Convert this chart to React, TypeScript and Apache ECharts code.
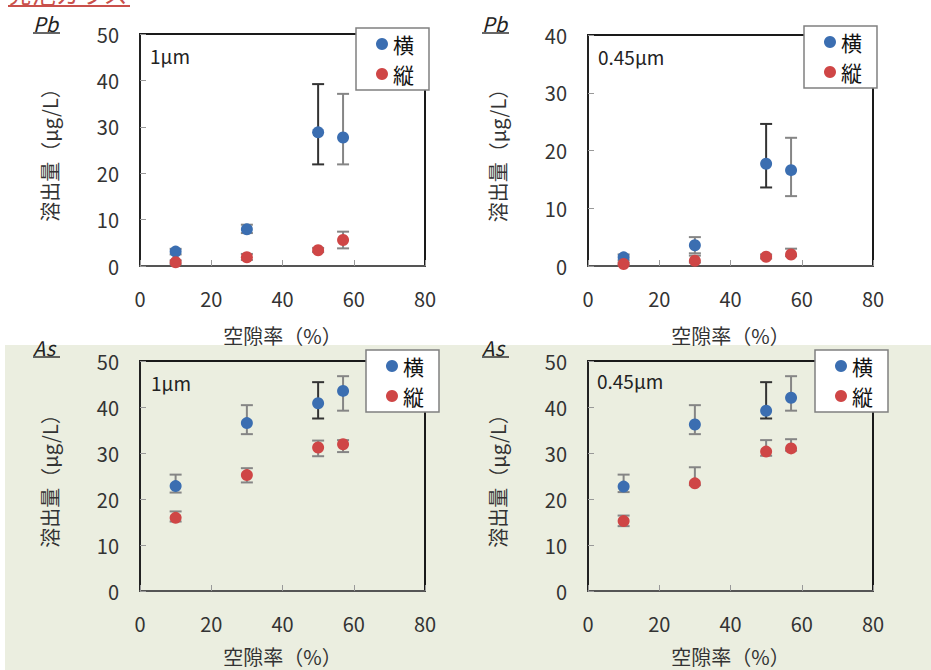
import React, { useEffect, useRef } from "react";
import * as echarts from "echarts";

const porosity = [10, 30, 50, 57];
const seriesNames = ["横", "縦"];
const xTicks = [0, 20, 40, 60, 80];

const pb1Yoko = [3.1, 7.9, 28.8, 27.7];
const pb1YokoErr = [[2.5, 3.7], [7.1, 8.9], [21.9, 39.2], [21.9, 37.1]];
const pb1Tate = [0.8, 1.9, 3.4, 5.6];
const pb1TateErr = [[0.4, 1.2], [1.3, 2.6], [3.0, 3.9], [3.8, 7.4]];

const pb045Yoko = [1.5, 3.6, 17.7, 16.6];
const pb045YokoErr = [[1.0, 2.0], [2.2, 5.0], [13.6, 24.6], [12.1, 22.2]];
const pb045Tate = [0.35, 0.9, 1.6, 2.0];
const pb045TateErr = [[0.2, 0.6], [0.6, 1.8], [1.3, 2.0], [1.7, 3.0]];

const as1Yoko = [22.8, 36.5, 40.8, 43.5];
const as1YokoErr = [[21.4, 25.3], [34.1, 40.4], [37.5, 45.4], [39.2, 46.7]];
const as1Tate = [15.9, 25.2, 31.2, 31.9];
const as1TateErr = [[15.1, 17.3], [23.6, 26.7], [29.3, 32.7], [30.2, 32.8]];

const as045Yoko = [22.7, 36.2, 39.2, 42.0];
const as045YokoErr = [[21.5, 25.3], [34.1, 40.4], [37.5, 45.4], [39.2, 46.7]];
const as045Tate = [15.2, 23.4, 30.3, 31.0];
const as045TateErr = [[14.1, 16.4], [23.0, 26.9], [29.4, 32.8], [30.5, 33.0]];

const panelElements = ["Pb", "Pb", "As", "As"];
const panelFilters = ["1μm", "0.45μm", "1μm", "0.45μm"];
const panelYMax = [50, 40, 50, 50];
const headerText = "発泡ガラス";
const xName = "空隙率（%）";
const yName = "溶出量（μg/L）";

const panelData = [
  { yoko: pb1Yoko, yokoErr: pb1YokoErr, tate: pb1Tate, tateErr: pb1TateErr },
  { yoko: pb045Yoko, yokoErr: pb045YokoErr, tate: pb045Tate, tateErr: pb045TateErr },
  { yoko: as1Yoko, yokoErr: as1YokoErr, tate: as1Tate, tateErr: as1TateErr },
  { yoko: as045Yoko, yokoErr: as045YokoErr, tate: as045Tate, tateErr: as045TateErr },
];

const FONT = "'Noto Sans CJK JP', 'Noto Sans', sans-serif";
const BLUE = "#3b6eb1";
const RED = "#cf4646";

const grids = [
  { left: 140, top: 34, width: 285, height: 232 },
  { left: 588, top: 35, width: 285, height: 231 },
  { left: 140, top: 361, width: 285, height: 230 },
  { left: 588, top: 361, width: 285, height: 230 },
];
const legends = [
  { left: 356, top: 28 },
  { left: 804, top: 26 },
  { left: 366, top: 350 },
  { left: 815, top: 350 },
];
const labelPos = [
  { x: 150, y: 55 },
  { x: 598, y: 56 },
  { x: 151, y: 382 },
  { x: 597, y: 380 },
];
const elemPos = [
  { x: 33, y: 23 },
  { x: 482, y: 23 },
  { x: 33, y: 347 },
  { x: 482, y: 347 },
];
const xNameGap = [59, 59, 55, 55];

function errRender(dark: boolean) {
  return (params: any, api: any) => {
    const x = api.value(0);
    const lo = api.coord([x, api.value(1)]);
    const hi = api.coord([x, api.value(2)]);
    const idx = params.dataIndex;
    const color = dark && idx === 2 ? "#333333" : "#858585";
    const hw = 6;
    const style = { stroke: color, lineWidth: 2 };
    return {
      type: "group",
      children: [
        { type: "line", shape: { x1: lo[0], y1: lo[1], x2: hi[0], y2: hi[1] }, style },
        { type: "line", shape: { x1: lo[0] - hw, y1: lo[1], x2: lo[0] + hw, y2: lo[1] }, style },
        { type: "line", shape: { x1: hi[0] - hw, y1: hi[1], x2: hi[0] + hw, y2: hi[1] }, style },
      ],
    };
  };
}

export default function App() {
  const ref = useRef<HTMLDivElement>(null);
  useEffect(() => {
    if (!ref.current) return;
    const chart = echarts.init(ref.current, undefined, { renderer: "svg" });

    const xAxes: any[] = [];
    const yAxes: any[] = [];
    const series: any[] = [];
    const legendArr: any[] = [];
    const graphics: any[] = [
      {
        type: "rect",
        shape: { x: 5, y: 345, width: 926, height: 325 },
        style: { fill: "#ebeee0" },
        z: -10,
      },
      {
        type: "text",
        x: 8,
        y: 4,
        style: {
          text: headerText,
          font: `24px ${FONT}`,
          fill: "#c9504b",
          textVerticalAlign: "bottom",
        },
      },
      {
        type: "line",
        shape: { x1: 8, y1: 6, x2: 130, y2: 6 },
        style: { stroke: "#c9504b", lineWidth: 2 },
      },
    ];

    for (let i = 0; i < 4; i++) {
      xAxes.push({
        gridIndex: i,
        type: "value",
        min: 0,
        max: 80,
        interval: 20,
        name: xName,
        nameLocation: "middle",
        nameGap: xNameGap[i],
        nameTextStyle: { fontSize: 20, color: "#333", fontFamily: FONT },
        axisLine: { show: true, onZero: false, lineStyle: { color: "#555", width: 2 } },
        axisTick: { show: true, inside: true, length: 6, lineStyle: { color: "#999" } },
        axisLabel: {
          fontSize: 20,
          color: "#333",
          fontFamily: FONT,
          margin: 22,
          formatter: (v: number) => (xTicks.includes(v) ? String(v) : ""),
        },
        splitLine: { show: false },
      });
      yAxes.push({
        gridIndex: i,
        type: "value",
        min: 0,
        max: panelYMax[i],
        interval: 10,
        name: yName,
        nameLocation: "middle",
        nameGap: 81,
        nameRotate: 90,
        nameTextStyle: { fontSize: 20, color: "#333", fontFamily: FONT },
        axisLine: { show: true, lineStyle: { color: "#222", width: 2 } },
        axisTick: { show: true, inside: true, length: 6, lineStyle: { color: "#999" } },
        axisLabel: { fontSize: 20, color: "#333", fontFamily: FONT, margin: 21 },
        splitLine: { show: false },
      });
      const d = panelData[i];
      series.push({
        name: "横err" + i,
        type: "custom",
        xAxisIndex: i,
        yAxisIndex: i,
        renderItem: errRender(true),
        data: porosity.map((x, k) => [x, d.yokoErr[k][0], d.yokoErr[k][1]]),
        z: 1,
        silent: true,
      });
      series.push({
        name: "縦err" + i,
        type: "custom",
        xAxisIndex: i,
        yAxisIndex: i,
        renderItem: errRender(false),
        data: porosity.map((x, k) => [x, d.tateErr[k][0], d.tateErr[k][1]]),
        z: 1,
        silent: true,
      });
      series.push({
        name: seriesNames[0],
        type: "scatter",
        xAxisIndex: i,
        yAxisIndex: i,
        symbol: "circle",
        symbolSize: 12,
        itemStyle: { color: BLUE, opacity: 1 },
        data: porosity.map((x, k) => [x, d.yoko[k]]),
        z: 3,
      });
      series.push({
        name: seriesNames[1],
        type: "scatter",
        xAxisIndex: i,
        yAxisIndex: i,
        symbol: "circle",
        symbolSize: 12,
        itemStyle: { color: RED, opacity: 1 },
        data: porosity.map((x, k) => [x, d.tate[k]]),
        z: 3,
      });
      legendArr.push({
        data: seriesNames,
        left: legends[i].left,
        top: legends[i].top,
        orient: "vertical",
        icon: "circle",
        itemWidth: 12,
        itemHeight: 12,
        itemGap: 8,
        padding: [5, 15, 5, 20],
        backgroundColor: "#ffffff",
        borderColor: "#808080",
        borderWidth: 1.5,
        textStyle: { fontSize: 21, color: "#111", fontFamily: FONT, lineHeight: 22 },
        selectedMode: false,
        z: 10,
      });
      graphics.push({
        type: "text",
        x: labelPos[i].x,
        y: labelPos[i].y,
        style: {
          text: panelFilters[i],
          font: `19px ${FONT}`,
          fill: "#222",
          textVerticalAlign: "middle",
        },
        z: 5,
      });
      graphics.push({
        type: "text",
        x: elemPos[i].x,
        y: elemPos[i].y,
        style: {
          text: panelElements[i],
          font: `italic 20px ${FONT}`,
          fill: "#222",
          textVerticalAlign: "middle",
        },
      });
      graphics.push({
        type: "line",
        shape: {
          x1: elemPos[i].x,
          y1: elemPos[i].y + 10,
          x2: elemPos[i].x + 27,
          y2: elemPos[i].y + 10,
        },
        style: { stroke: "#333", lineWidth: 1.5 },
      });
    }

    chart.setOption({
      animation: false,
      backgroundColor: "#ffffff",
      grid: grids.map((g) => ({
        ...g,
        show: true,
        borderColor: "#1a1a1a",
        borderWidth: 2,
        backgroundColor: "transparent",
        containLabel: false,
      })),
      xAxis: xAxes,
      yAxis: yAxes,
      legend: legendArr,
      series,
      graphic: graphics,
    });
    return () => chart.dispose();
  }, []);
  return (
    <div
      ref={ref}
      style={{ position: "absolute", left: 0, top: 0, width: 931, height: 670 }}
    />
  );
}
